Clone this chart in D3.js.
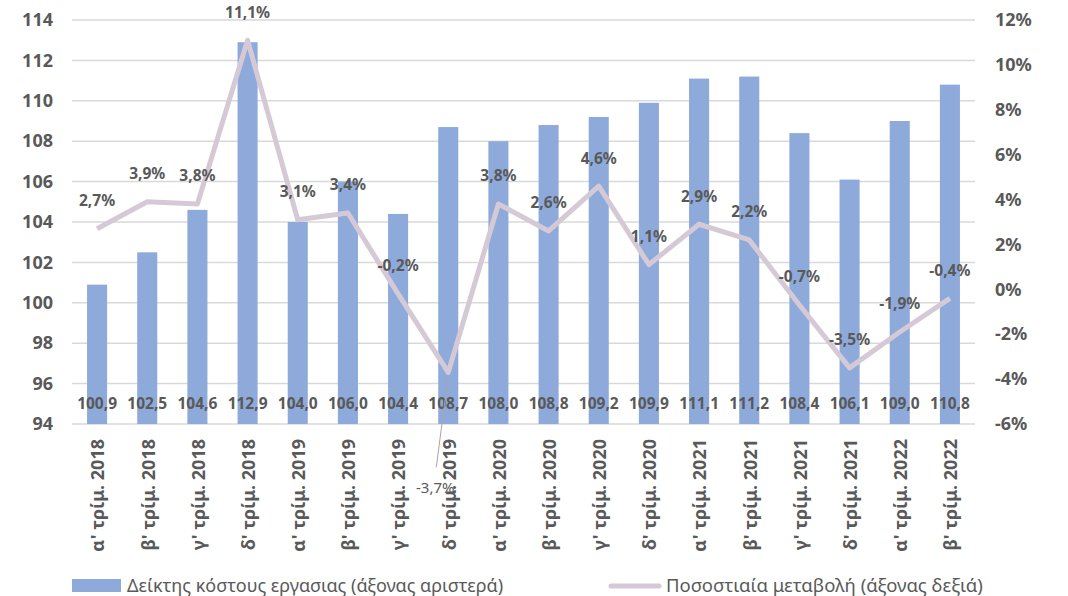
<!DOCTYPE html>
<html><head><meta charset="utf-8">
<script src="https://cdn.jsdelivr.net/npm/d3@7"></script>
<style>body{margin:0;background:#fff;} svg{display:block;}</style>
</head><body>
<script>
const categories = ["α' τρίμ. 2018","β' τρίμ. 2018","γ' τρίμ. 2018","δ' τρίμ. 2018","α' τρίμ. 2019","β' τρίμ. 2019","γ' τρίμ. 2019","δ' τρίμ. 2019","α' τρίμ. 2020","β' τρίμ. 2020","γ' τρίμ. 2020","δ' τρίμ. 2020","α' τρίμ. 2021","β' τρίμ. 2021","γ' τρίμ. 2021","δ' τρίμ. 2021","α' τρίμ. 2022","β' τρίμ. 2022"];
const indexValues = [100.9,102.5,104.6,112.9,104.0,106.0,104.4,108.7,108.0,108.8,109.2,109.9,111.1,111.2,108.4,106.1,109.0,110.8];
const changeValues = [2.7,3.9,3.8,11.1,3.1,3.4,-0.2,-3.7,3.8,2.6,4.6,1.1,2.9,2.2,-0.7,-3.5,-1.9,-0.4];
const leftTicks = [94,96,98,100,102,104,106,108,110,112,114];
const rightTicks = [-6,-4,-2,0,2,4,6,8,10,12];
const legendLabels = ["Δείκτης κόστους εργασιας (άξονας αριστερά)","Ποσοστιαία μεταβολή (άξονας δεξιά)"];

const W=1068,H=596;
const mLeft=72,mRight=975,mTop=20,mBottom=424;
const font="'Noto Sans','Open Sans',sans-serif";
const txt="#595959", barColor="#8eaadb", lineColor="#d5c9d6", grid="#d9d9d9";
const fmt = v => d3.format(".1f")(v).replace(".",",").replace("\u2212","-");

const svg=d3.select("body").append("svg").attr("width",W).attr("height",H).style("font-family",font);

const x=d3.scaleBand().domain(categories).range([mLeft,mRight]).paddingInner(0.6).paddingOuter(0.3);
const yL=d3.scaleLinear().domain([94,114]).range([mBottom,mTop]);
const yR=d3.scaleLinear().domain([-6,12]).range([mBottom,mTop]);
const cx = d => x(d)+x.bandwidth()/2;

// gridlines
svg.append("g").selectAll("line").data(leftTicks).join("line")
  .attr("x1",mLeft).attr("x2",mRight).attr("y1",d=>yL(d)).attr("y2",d=>yL(d))
  .attr("stroke",grid).attr("stroke-width",1.5);

// left axis
const axL=svg.append("g").attr("transform",`translate(${mLeft},0)`)
  .call(d3.axisLeft(yL).tickValues(leftTicks).tickSize(0).tickPadding(19));
axL.select(".domain").remove();
axL.selectAll("text").attr("font-size",18).attr("font-weight","bold").attr("fill",txt).attr("font-family",font);

// right axis
const axR=svg.append("g").attr("transform",`translate(${mRight},0)`)
  .call(d3.axisRight(yR).tickValues(rightTicks).tickSize(0).tickPadding(20).tickFormat(d=>String(d)+"%"));
axR.select(".domain").remove();
axR.selectAll("text").attr("font-size",18).attr("font-weight","bold").attr("fill",txt).attr("font-family",font);

// bars
svg.append("g").selectAll("rect").data(categories).join("rect")
  .attr("x",d=>x(d)).attr("width",x.bandwidth())
  .attr("y",(d,i)=>yL(indexValues[i])).attr("height",(d,i)=>yL(94)-yL(indexValues[i]))
  .attr("fill",barColor);

// bar labels
svg.append("g").selectAll("text").data(categories).join("text")
  .attr("x",d=>cx(d)).attr("y",yL(95)).attr("dy","0.35em")
  .attr("text-anchor","middle").attr("font-size",15.5).attr("font-weight","bold").attr("fill",txt)
  .text((d,i)=>fmt(indexValues[i]));

// x labels
svg.append("g").selectAll("text").data(categories).join("text")
  .attr("transform",d=>`translate(${cx(d)+1},${mBottom+15}) rotate(-90)`)
  .attr("text-anchor","end").attr("dy","0.35em")
  .attr("font-size",18).attr("font-weight","bold").attr("fill",txt).text(d=>d);

// line
const line=d3.line().x((d,i)=>cx(categories[i])).y(d=>yR(d));
svg.append("path").datum(changeValues).attr("d",line)
  .attr("fill","none").attr("stroke",lineColor).attr("stroke-width",5).attr("stroke-linejoin","round");

// line labels
const labG=svg.append("g");
changeValues.forEach((v,i)=>{
  const px=cx(categories[i]), py=yR(v);
  if(i===7){
    labG.append("line").attr("x1",px).attr("y1",py+3).attr("x2",px-12).attr("y2",py+95)
      .attr("stroke","#a6a6a6").attr("stroke-width",1);
    labG.append("text").attr("x",px-13).attr("y",py+115).attr("dy","0.35em")
      .attr("text-anchor","middle").attr("font-size",15).attr("fill",txt).text(fmt(v)+"%");
  } else {
    labG.append("text").attr("x",px).attr("y",py-28).attr("dy","0.35em")
      .attr("text-anchor","middle").attr("font-size",15.5).attr("font-weight","bold").attr("fill",txt).text(fmt(v)+"%");
  }
});

// legend
svg.append("rect").attr("x",72).attr("y",579).attr("width",49).attr("height",13).attr("fill",barColor);
svg.append("text").attr("x",127).attr("y",586).attr("dy","0.35em").attr("font-size",18).attr("fill",txt).text(legendLabels[0]);
svg.append("line").attr("x1",611).attr("x2",659).attr("y1",586).attr("y2",586).attr("stroke",lineColor).attr("stroke-width",5).attr("stroke-linecap","round");
svg.append("text").attr("x",666).attr("y",586).attr("dy","0.35em").attr("font-size",18.5).attr("fill",txt).text(legendLabels[1]);
</script>
</body></html>
